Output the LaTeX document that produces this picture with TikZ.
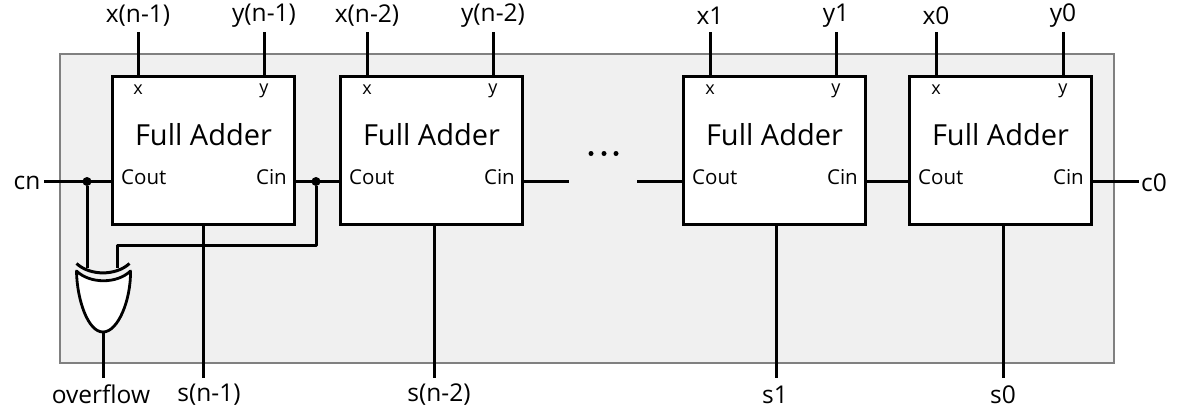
\documentclass[tikz,border=0pt]{standalone}
\usepackage{fontspec}
\setmainfont{Open Sans}
\usetikzlibrary{calc}
\tikzset{
  x=1pt,y=-1pt,
  adder/.style={draw=black,fill=white,line width=3pt,outer sep=0pt,minimum width=182pt,minimum height=148pt,inner sep=0pt,anchor=north west},
  wire/.style={line width=3pt,line cap=butt},
  biglabel/.style={font=\fontsize{24.5}{28}\selectfont,inner sep=0pt},
  portlabel/.style={font=\fontsize{20.5}{24}\selectfont,inner sep=0pt},
  xylabel/.style={font=\fontsize{18}{22}\selectfont,inner sep=0pt},
  titlelabel/.style={font=\fontsize{29}{34}\selectfont,inner sep=0pt},
  junction/.style={circle,fill=black,inner sep=0pt,minimum size=9pt},
  dotmark/.style={circle,fill=black,inner sep=0pt,minimum size=5pt}
}
\newcommand{\adderblock}[7]{%
  \node[adder] (#1) at (#2,76.5) {};
  \node[titlelabel] at ($(#1.center)+(0,-16)$) {Full Adder};
  \node[xylabel] at (#3,90) {x};
  \node[xylabel] at (#4,91) {y};
  \node[portlabel,anchor=west] at ($(#1.west)+(8.5,27)$) {Cout};
  \node[portlabel,anchor=east] at ($(#1.east)+(-7.5,27)$) {Cin};
  \node[biglabel] (#1x) at (#3,15.5) {#5};
  \node[biglabel] (#1y) at (#4,15.5) {#6};
  \node[biglabel] (#1s) at (#7) {\adderslabel};
  \coordinate (#1xp) at (#3,76.5);
  \coordinate (#1yp) at (#4,76.5);
  \coordinate (#1xt) at (#3,32);
  \coordinate (#1yt) at (#4,32);
  \draw[wire] (#1xt) -- (#1xp);
  \draw[wire] (#1yt) -- (#1yp);
  \coordinate (#1cout) at ($(#1.west)+(0,31)$);
  \coordinate (#1cin) at ($(#1.east)+(0,31)$);
}
\begin{document}
\begin{tikzpicture}
\useasboundingbox (0,0) rectangle (1181,413);
\draw[draw=black!50,fill=black!6,line width=2pt] (60,54) rectangle (1114,363);
\def\adderslabel{s(n-1)}
\adderblock{a}{112.5}{138}{264}{x(n-1)}{y(n-1)}{209,394.5}
\def\adderslabel{s(n-2)}
\adderblock{b}{340.5}{367}{493}{x(n-2)}{y(n-2)}{439,394.5}
\def\adderslabel{s1}
\adderblock{c}{683.5}{710}{836}{x1}{y1}{775,394.5}
\def\adderslabel{s0}
\adderblock{d}{909.5}{936}{1063}{x0}{y0}{1003,394.5}
% bottom wires
\coordinate (as0) at (203,378); \coordinate (bs0) at (434,378);
\coordinate (cs0) at (776,378); \coordinate (ds0) at (1003,378);
\draw[wire] (a.south -| as0) -- (as0);
\draw[wire] (b.south -| bs0) -- (bs0);
\draw[wire] (c.south -| cs0) -- (cs0);
\draw[wire] (d.south -| ds0) -- (ds0);
% carry chain
\node[biglabel] (cn) at (27,182.5) {cn};
\node[biglabel] (c0) at (1154,182.5) {c0};
\node[dotmark] (d1) at (591,153.5) {};
\node[dotmark] (d2) at (604,153.5) {};
\node[dotmark] (d3) at (616,153.5) {};
\coordinate (bout) at (569,181.5);
\coordinate (cin2) at (637,181.5);
\draw[wire] (44,181.5) -- (acout);
\draw[wire] (acin) -- (bcout);
\draw[wire] (bcin) -- (bout);
\draw[wire] (cin2) -- (ccout);
\draw[wire] (ccin) -- (dcout);
\draw[wire] (dcin) -- (1139,181.5);
\node[junction] (j1) at (87,181.5) {};
\node[junction] (j2) at (316,181.5) {};
% XOR gate
\coordinate (g1) at (87,268);
\coordinate (g2) at (117,268);
\draw[wire] (j1) -- (g1);
\draw[wire,line join=round] (j2) -- (316,245.5) -- (117,245.5) -- (g2);
\draw[wire] (76.5,263.5) .. controls (90,276) and (116,276) .. (129.5,263.5);
\draw[line width=2.8pt,fill=white,line join=round] (76.5,271) .. controls (90,284) and (117,284) .. (130.5,271)
   .. controls (131,300) and (118,332) .. (103,332)
   .. controls (88,332) and (77,300) .. (76.5,271) -- cycle;
\node[biglabel] (ovf) at (101,394.5) {overflow};
\coordinate (gout) at (103,332);
\draw[wire] (gout) -- (103,378);
\end{tikzpicture}
\end{document}
